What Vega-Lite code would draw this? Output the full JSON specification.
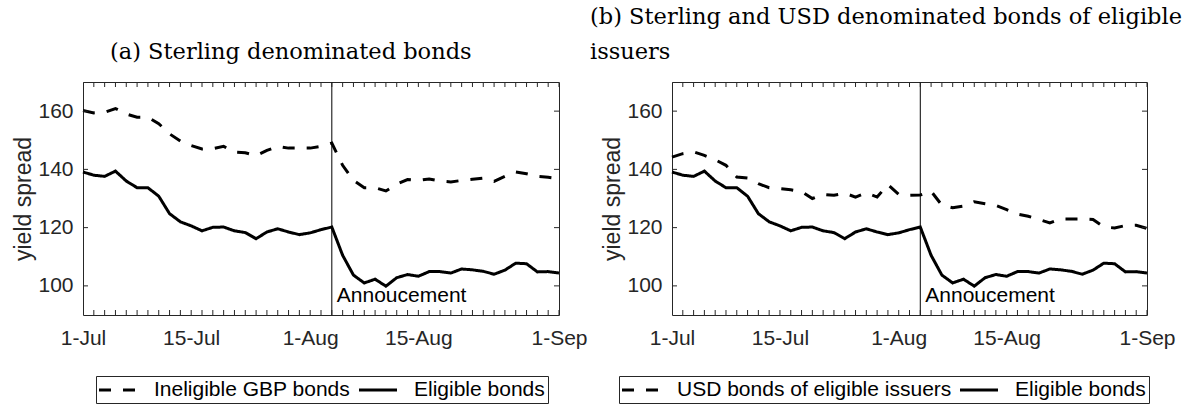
{
  "$schema": "https://vega.github.io/schema/vega-lite/v6.json",
  "background": "white",
  "padding": {"left": 12, "top": 5, "right": 5, "bottom": 0},
  "config": {
    "view": {"stroke": "#262626", "strokeWidth": 1},
    "axis": {
      "labelFont": "Liberation Sans", "labelFontSize": 21, "labelColor": "#262626",
      "titleFont": "Liberation Sans", "titleFontSize": 23, "titleFontWeight": "normal", "titleColor": "#262626",
      "ticks": false, "tickSize": 0, "domain": false, "grid": false
    },
    "tick": {"color": "#262626", "opacity": 1, "thickness": 1, "size": 10},
    "title": {"font": "DejaVu Serif", "fontSize": 22.5, "fontWeight": "normal", "color": "black", "anchor": "start", "baseline": "bottom", "offset": 18, "lineHeight": 35, "frame": "group"},
    "legend": {
      "labelFont": "Liberation Sans", "labelFontSize": 21, "labelColor": "black", "labelLimit": 0,
      "symbolType": "M-2,0H2", "symbolSize": 361, "symbolStrokeWidth": 3, "symbolStrokeColor": "black", "symbolOffset": 8,
      "strokeColor": "#262626", "fillColor": "white", "padding": 3, "columnPadding": 2, "labelOffset": 25
    }
  },
  "datasets": {
    "xticks": [{"i": 0}, {"i": 1}, {"i": 2}, {"i": 3}, {"i": 4}, {"i": 5}, {"i": 6}, {"i": 7}, {"i": 8}, {"i": 9}, {"i": 10}, {"i": 11}, {"i": 12}, {"i": 13}, {"i": 14}, {"i": 15}, {"i": 16}, {"i": 17}, {"i": 18}, {"i": 19}, {"i": 20}, {"i": 21}, {"i": 22}, {"i": 23}, {"i": 24}, {"i": 25}, {"i": 26}, {"i": 27}, {"i": 28}, {"i": 29}, {"i": 30}, {"i": 31}, {"i": 32}, {"i": 33}, {"i": 34}, {"i": 35}, {"i": 36}, {"i": 37}, {"i": 38}, {"i": 39}, {"i": 40}, {"i": 41}, {"i": 42}, {"i": 43}, {"i": 44}],
    "yticks": [{"v": 100}, {"v": 120}, {"v": 140}, {"v": 160}],
    "a": [
      {"series": "Ineligible GBP bonds", "i": 0, "v": 160.2}, {"series": "Ineligible GBP bonds", "i": 1, "v": 159.4}, {"series": "Ineligible GBP bonds", "i": 2, "v": 159.6}, {"series": "Ineligible GBP bonds", "i": 3, "v": 160.9}, {"series": "Ineligible GBP bonds", "i": 4, "v": 159.0}, {"series": "Ineligible GBP bonds", "i": 5, "v": 157.9}, {"series": "Ineligible GBP bonds", "i": 6, "v": 157.9}, {"series": "Ineligible GBP bonds", "i": 7, "v": 155.7}, {"series": "Ineligible GBP bonds", "i": 8, "v": 152.2}, {"series": "Ineligible GBP bonds", "i": 9, "v": 149.7}, {"series": "Ineligible GBP bonds", "i": 10, "v": 148.2}, {"series": "Ineligible GBP bonds", "i": 11, "v": 147.0}, {"series": "Ineligible GBP bonds", "i": 12, "v": 147.1}, {"series": "Ineligible GBP bonds", "i": 13, "v": 147.9}, {"series": "Ineligible GBP bonds", "i": 14, "v": 145.9}, {"series": "Ineligible GBP bonds", "i": 15, "v": 145.7}, {"series": "Ineligible GBP bonds", "i": 16, "v": 144.7}, {"series": "Ineligible GBP bonds", "i": 17, "v": 146.5}, {"series": "Ineligible GBP bonds", "i": 18, "v": 147.9}, {"series": "Ineligible GBP bonds", "i": 19, "v": 147.3}, {"series": "Ineligible GBP bonds", "i": 20, "v": 147.3}, {"series": "Ineligible GBP bonds", "i": 21, "v": 147.3}, {"series": "Ineligible GBP bonds", "i": 22, "v": 147.9}, {"series": "Ineligible GBP bonds", "i": 23, "v": 149.0}, {"series": "Ineligible GBP bonds", "i": 24, "v": 141.4}, {"series": "Ineligible GBP bonds", "i": 25, "v": 136.2}, {"series": "Ineligible GBP bonds", "i": 26, "v": 133.7}, {"series": "Ineligible GBP bonds", "i": 27, "v": 133.7}, {"series": "Ineligible GBP bonds", "i": 28, "v": 132.6}, {"series": "Ineligible GBP bonds", "i": 29, "v": 134.9}, {"series": "Ineligible GBP bonds", "i": 30, "v": 136.5}, {"series": "Ineligible GBP bonds", "i": 31, "v": 136.2}, {"series": "Ineligible GBP bonds", "i": 32, "v": 136.7}, {"series": "Ineligible GBP bonds", "i": 33, "v": 136.0}, {"series": "Ineligible GBP bonds", "i": 34, "v": 135.7}, {"series": "Ineligible GBP bonds", "i": 35, "v": 136.2}, {"series": "Ineligible GBP bonds", "i": 36, "v": 136.6}, {"series": "Ineligible GBP bonds", "i": 37, "v": 137.0}, {"series": "Ineligible GBP bonds", "i": 38, "v": 135.9}, {"series": "Ineligible GBP bonds", "i": 39, "v": 137.6}, {"series": "Ineligible GBP bonds", "i": 40, "v": 139.1}, {"series": "Ineligible GBP bonds", "i": 41, "v": 138.5}, {"series": "Ineligible GBP bonds", "i": 42, "v": 137.6}, {"series": "Ineligible GBP bonds", "i": 43, "v": 137.3}, {"series": "Ineligible GBP bonds", "i": 44, "v": 136.8},
      {"series": "Eligible bonds", "i": 0, "v": 139.1}, {"series": "Eligible bonds", "i": 1, "v": 138.0}, {"series": "Eligible bonds", "i": 2, "v": 137.6}, {"series": "Eligible bonds", "i": 3, "v": 139.4}, {"series": "Eligible bonds", "i": 4, "v": 136.0}, {"series": "Eligible bonds", "i": 5, "v": 133.7}, {"series": "Eligible bonds", "i": 6, "v": 133.7}, {"series": "Eligible bonds", "i": 7, "v": 130.8}, {"series": "Eligible bonds", "i": 8, "v": 124.8}, {"series": "Eligible bonds", "i": 9, "v": 122.0}, {"series": "Eligible bonds", "i": 10, "v": 120.6}, {"series": "Eligible bonds", "i": 11, "v": 118.9}, {"series": "Eligible bonds", "i": 12, "v": 120.1}, {"series": "Eligible bonds", "i": 13, "v": 120.2}, {"series": "Eligible bonds", "i": 14, "v": 118.9}, {"series": "Eligible bonds", "i": 15, "v": 118.3}, {"series": "Eligible bonds", "i": 16, "v": 116.2}, {"series": "Eligible bonds", "i": 17, "v": 118.5}, {"series": "Eligible bonds", "i": 18, "v": 119.6}, {"series": "Eligible bonds", "i": 19, "v": 118.5}, {"series": "Eligible bonds", "i": 20, "v": 117.6}, {"series": "Eligible bonds", "i": 21, "v": 118.2}, {"series": "Eligible bonds", "i": 22, "v": 119.3}, {"series": "Eligible bonds", "i": 23, "v": 120.2}, {"series": "Eligible bonds", "i": 24, "v": 110.5}, {"series": "Eligible bonds", "i": 25, "v": 103.7}, {"series": "Eligible bonds", "i": 26, "v": 101.0}, {"series": "Eligible bonds", "i": 27, "v": 102.3}, {"series": "Eligible bonds", "i": 28, "v": 99.9}, {"series": "Eligible bonds", "i": 29, "v": 102.8}, {"series": "Eligible bonds", "i": 30, "v": 103.9}, {"series": "Eligible bonds", "i": 31, "v": 103.3}, {"series": "Eligible bonds", "i": 32, "v": 104.9}, {"series": "Eligible bonds", "i": 33, "v": 104.9}, {"series": "Eligible bonds", "i": 34, "v": 104.4}, {"series": "Eligible bonds", "i": 35, "v": 105.8}, {"series": "Eligible bonds", "i": 36, "v": 105.5}, {"series": "Eligible bonds", "i": 37, "v": 105.0}, {"series": "Eligible bonds", "i": 38, "v": 104.0}, {"series": "Eligible bonds", "i": 39, "v": 105.4}, {"series": "Eligible bonds", "i": 40, "v": 107.8}, {"series": "Eligible bonds", "i": 41, "v": 107.6}, {"series": "Eligible bonds", "i": 42, "v": 104.8}, {"series": "Eligible bonds", "i": 43, "v": 104.9}, {"series": "Eligible bonds", "i": 44, "v": 104.4}
    ],
    "b": [
      {"series": "USD bonds of eligible issuers", "i": 0, "v": 144.2}, {"series": "USD bonds of eligible issuers", "i": 1, "v": 145.4}, {"series": "USD bonds of eligible issuers", "i": 2, "v": 146.0}, {"series": "USD bonds of eligible issuers", "i": 3, "v": 144.8}, {"series": "USD bonds of eligible issuers", "i": 4, "v": 143.3}, {"series": "USD bonds of eligible issuers", "i": 5, "v": 141.4}, {"series": "USD bonds of eligible issuers", "i": 6, "v": 137.4}, {"series": "USD bonds of eligible issuers", "i": 7, "v": 137.0}, {"series": "USD bonds of eligible issuers", "i": 8, "v": 135.1}, {"series": "USD bonds of eligible issuers", "i": 9, "v": 133.7}, {"series": "USD bonds of eligible issuers", "i": 10, "v": 133.4}, {"series": "USD bonds of eligible issuers", "i": 11, "v": 133.0}, {"series": "USD bonds of eligible issuers", "i": 12, "v": 132.4}, {"series": "USD bonds of eligible issuers", "i": 13, "v": 130.0}, {"series": "USD bonds of eligible issuers", "i": 14, "v": 131.4}, {"series": "USD bonds of eligible issuers", "i": 15, "v": 131.1}, {"series": "USD bonds of eligible issuers", "i": 16, "v": 131.8}, {"series": "USD bonds of eligible issuers", "i": 17, "v": 130.5}, {"series": "USD bonds of eligible issuers", "i": 18, "v": 131.9}, {"series": "USD bonds of eligible issuers", "i": 19, "v": 130.5}, {"series": "USD bonds of eligible issuers", "i": 20, "v": 134.8}, {"series": "USD bonds of eligible issuers", "i": 21, "v": 131.4}, {"series": "USD bonds of eligible issuers", "i": 22, "v": 131.1}, {"series": "USD bonds of eligible issuers", "i": 23, "v": 131.2}, {"series": "USD bonds of eligible issuers", "i": 24, "v": 132.5}, {"series": "USD bonds of eligible issuers", "i": 25, "v": 127.7}, {"series": "USD bonds of eligible issuers", "i": 26, "v": 126.8}, {"series": "USD bonds of eligible issuers", "i": 27, "v": 127.4}, {"series": "USD bonds of eligible issuers", "i": 28, "v": 128.9}, {"series": "USD bonds of eligible issuers", "i": 29, "v": 128.2}, {"series": "USD bonds of eligible issuers", "i": 30, "v": 127.6}, {"series": "USD bonds of eligible issuers", "i": 31, "v": 126.2}, {"series": "USD bonds of eligible issuers", "i": 32, "v": 124.6}, {"series": "USD bonds of eligible issuers", "i": 33, "v": 123.9}, {"series": "USD bonds of eligible issuers", "i": 34, "v": 122.8}, {"series": "USD bonds of eligible issuers", "i": 35, "v": 121.6}, {"series": "USD bonds of eligible issuers", "i": 36, "v": 123.0}, {"series": "USD bonds of eligible issuers", "i": 37, "v": 123.0}, {"series": "USD bonds of eligible issuers", "i": 38, "v": 123.0}, {"series": "USD bonds of eligible issuers", "i": 39, "v": 122.8}, {"series": "USD bonds of eligible issuers", "i": 40, "v": 120.2}, {"series": "USD bonds of eligible issuers", "i": 41, "v": 119.9}, {"series": "USD bonds of eligible issuers", "i": 42, "v": 120.7}, {"series": "USD bonds of eligible issuers", "i": 43, "v": 120.8}, {"series": "USD bonds of eligible issuers", "i": 44, "v": 119.7},
      {"series": "Eligible bonds", "i": 0, "v": 139.1}, {"series": "Eligible bonds", "i": 1, "v": 138.0}, {"series": "Eligible bonds", "i": 2, "v": 137.6}, {"series": "Eligible bonds", "i": 3, "v": 139.4}, {"series": "Eligible bonds", "i": 4, "v": 136.0}, {"series": "Eligible bonds", "i": 5, "v": 133.7}, {"series": "Eligible bonds", "i": 6, "v": 133.7}, {"series": "Eligible bonds", "i": 7, "v": 130.8}, {"series": "Eligible bonds", "i": 8, "v": 124.8}, {"series": "Eligible bonds", "i": 9, "v": 122.0}, {"series": "Eligible bonds", "i": 10, "v": 120.6}, {"series": "Eligible bonds", "i": 11, "v": 118.9}, {"series": "Eligible bonds", "i": 12, "v": 120.1}, {"series": "Eligible bonds", "i": 13, "v": 120.2}, {"series": "Eligible bonds", "i": 14, "v": 118.9}, {"series": "Eligible bonds", "i": 15, "v": 118.3}, {"series": "Eligible bonds", "i": 16, "v": 116.2}, {"series": "Eligible bonds", "i": 17, "v": 118.5}, {"series": "Eligible bonds", "i": 18, "v": 119.6}, {"series": "Eligible bonds", "i": 19, "v": 118.5}, {"series": "Eligible bonds", "i": 20, "v": 117.6}, {"series": "Eligible bonds", "i": 21, "v": 118.2}, {"series": "Eligible bonds", "i": 22, "v": 119.3}, {"series": "Eligible bonds", "i": 23, "v": 120.2}, {"series": "Eligible bonds", "i": 24, "v": 110.5}, {"series": "Eligible bonds", "i": 25, "v": 103.7}, {"series": "Eligible bonds", "i": 26, "v": 101.0}, {"series": "Eligible bonds", "i": 27, "v": 102.3}, {"series": "Eligible bonds", "i": 28, "v": 99.9}, {"series": "Eligible bonds", "i": 29, "v": 102.8}, {"series": "Eligible bonds", "i": 30, "v": 103.9}, {"series": "Eligible bonds", "i": 31, "v": 103.3}, {"series": "Eligible bonds", "i": 32, "v": 104.9}, {"series": "Eligible bonds", "i": 33, "v": 104.9}, {"series": "Eligible bonds", "i": 34, "v": 104.4}, {"series": "Eligible bonds", "i": 35, "v": 105.8}, {"series": "Eligible bonds", "i": 36, "v": 105.5}, {"series": "Eligible bonds", "i": 37, "v": 105.0}, {"series": "Eligible bonds", "i": 38, "v": 104.0}, {"series": "Eligible bonds", "i": 39, "v": 105.4}, {"series": "Eligible bonds", "i": 40, "v": 107.8}, {"series": "Eligible bonds", "i": 41, "v": 107.6}, {"series": "Eligible bonds", "i": 42, "v": 104.8}, {"series": "Eligible bonds", "i": 43, "v": 104.9}, {"series": "Eligible bonds", "i": 44, "v": 104.4}
    ]
  },
  "spacing": 113,
  "bounds": "flush",
  "resolve": {"scale": {"strokeDash": "independent"}, "legend": {"strokeDash": "independent"}},
  "hconcat": [
    {
      "width": 476, "height": 233,
      "title": {"text": "(a) Sterling denominated bonds", "dx": 27},
      "layer": [
        {
          "data": {"name": "a"},
          "mark": {"type": "line", "color": "black", "strokeWidth": 3},
          "encoding": {
            "x": {"field": "i", "type": "quantitative", "scale": {"domain": [0, 44], "nice": false, "zero": false},
              "axis": {"orient": "bottom", "title": null, "values": [0, 10, 21, 31, 44],
                "labelExpr": "datum.value==0?'1-Jul':datum.value==10?'15-Jul':datum.value==21?'1-Aug':datum.value==31?'15-Aug':'1-Sep'",
                "labelOverlap": false, "labelFlush": false, "labelBound": false, "labelPadding": 12}},
            "y": {"field": "v", "type": "quantitative", "scale": {"domain": [90, 170], "nice": false, "zero": false},
              "axis": {"orient": "left", "title": "yield spread", "values": [100, 120, 140, 160], "labelPadding": 10, "titlePadding": 2}},
            "strokeDash": {"field": "series", "type": "nominal",
              "scale": {"domain": ["Ineligible GBP bonds", "Eligible bonds"], "range": [[12, 12], [1, 0]]},
              "legend": {"orient": "none", "legendX": 13, "legendY": 294, "direction": "horizontal", "title": null}}
          }
        },
        {
          "data": {"values": [{}]},
          "mark": {"type": "rule", "color": "black", "strokeWidth": 1},
          "encoding": {"x": {"datum": 23, "type": "quantitative", "axis": null}}
        },
        {
          "data": {"values": [{}]},
          "mark": {"type": "text", "text": "Annoucement", "align": "left", "baseline": "alphabetic", "dx": 5, "font": "Liberation Sans", "fontSize": 21, "color": "black"},
          "encoding": {
            "x": {"datum": 23, "type": "quantitative", "axis": null},
            "y": {"datum": 94.5, "type": "quantitative", "axis": null}
          }
        },
        {
          "data": {"name": "xticks"},
          "mark": {"type": "tick", "orient": "vertical", "clip": true},
          "encoding": {"x": {"field": "i", "type": "quantitative", "axis": null}, "y": {"datum": 90, "type": "quantitative", "axis": null}}
        },
        {
          "data": {"name": "xticks"},
          "mark": {"type": "tick", "orient": "vertical", "clip": true},
          "encoding": {"x": {"field": "i", "type": "quantitative", "axis": null}, "y": {"datum": 170, "type": "quantitative", "axis": null}}
        },
        {
          "data": {"name": "yticks"},
          "mark": {"type": "tick", "orient": "horizontal", "clip": true},
          "encoding": {"y": {"field": "v", "type": "quantitative", "axis": null}, "x": {"datum": 0, "type": "quantitative", "axis": null}}
        },
        {
          "data": {"name": "yticks"},
          "mark": {"type": "tick", "orient": "horizontal", "clip": true},
          "encoding": {"y": {"field": "v", "type": "quantitative", "axis": null}, "x": {"datum": 44, "type": "quantitative", "axis": null}}
        }
      ],
      "resolve": {"axis": {"x": "independent", "y": "independent"}}
    },
    {
      "width": 475, "height": 233,
      "title": {"text": ["(b) Sterling and USD denominated bonds of eligible", "issuers"], "dx": -82},
      "layer": [
        {
          "data": {"name": "b"},
          "mark": {"type": "line", "color": "black", "strokeWidth": 3},
          "encoding": {
            "x": {"field": "i", "type": "quantitative", "scale": {"domain": [0, 44], "nice": false, "zero": false},
              "axis": {"orient": "bottom", "title": null, "values": [0, 10, 21, 31, 44],
                "labelExpr": "datum.value==0?'1-Jul':datum.value==10?'15-Jul':datum.value==21?'1-Aug':datum.value==31?'15-Aug':'1-Sep'",
                "labelOverlap": false, "labelFlush": false, "labelBound": false, "labelPadding": 12}},
            "y": {"field": "v", "type": "quantitative", "scale": {"domain": [90, 170], "nice": false, "zero": false},
              "axis": {"orient": "left", "title": "yield spread", "values": [100, 120, 140, 160], "labelPadding": 10, "titlePadding": 2}},
            "strokeDash": {"field": "series", "type": "nominal",
              "scale": {"domain": ["USD bonds of eligible issuers", "Eligible bonds"], "range": [[12, 12], [1, 0]]},
              "legend": {"orient": "none", "legendX": -53, "legendY": 294, "direction": "horizontal", "title": null}}
          }
        },
        {
          "data": {"values": [{}]},
          "mark": {"type": "rule", "color": "black", "strokeWidth": 1},
          "encoding": {"x": {"datum": 23, "type": "quantitative", "axis": null}}
        },
        {
          "data": {"values": [{}]},
          "mark": {"type": "text", "text": "Annoucement", "align": "left", "baseline": "alphabetic", "dx": 5, "font": "Liberation Sans", "fontSize": 21, "color": "black"},
          "encoding": {
            "x": {"datum": 23, "type": "quantitative", "axis": null},
            "y": {"datum": 94.5, "type": "quantitative", "axis": null}
          }
        },
        {
          "data": {"name": "xticks"},
          "mark": {"type": "tick", "orient": "vertical", "clip": true},
          "encoding": {"x": {"field": "i", "type": "quantitative", "axis": null}, "y": {"datum": 90, "type": "quantitative", "axis": null}}
        },
        {
          "data": {"name": "xticks"},
          "mark": {"type": "tick", "orient": "vertical", "clip": true},
          "encoding": {"x": {"field": "i", "type": "quantitative", "axis": null}, "y": {"datum": 170, "type": "quantitative", "axis": null}}
        },
        {
          "data": {"name": "yticks"},
          "mark": {"type": "tick", "orient": "horizontal", "clip": true},
          "encoding": {"y": {"field": "v", "type": "quantitative", "axis": null}, "x": {"datum": 0, "type": "quantitative", "axis": null}}
        },
        {
          "data": {"name": "yticks"},
          "mark": {"type": "tick", "orient": "horizontal", "clip": true},
          "encoding": {"y": {"field": "v", "type": "quantitative", "axis": null}, "x": {"datum": 44, "type": "quantitative", "axis": null}}
        }
      ],
      "resolve": {"axis": {"x": "independent", "y": "independent"}}
    }
  ]
}
